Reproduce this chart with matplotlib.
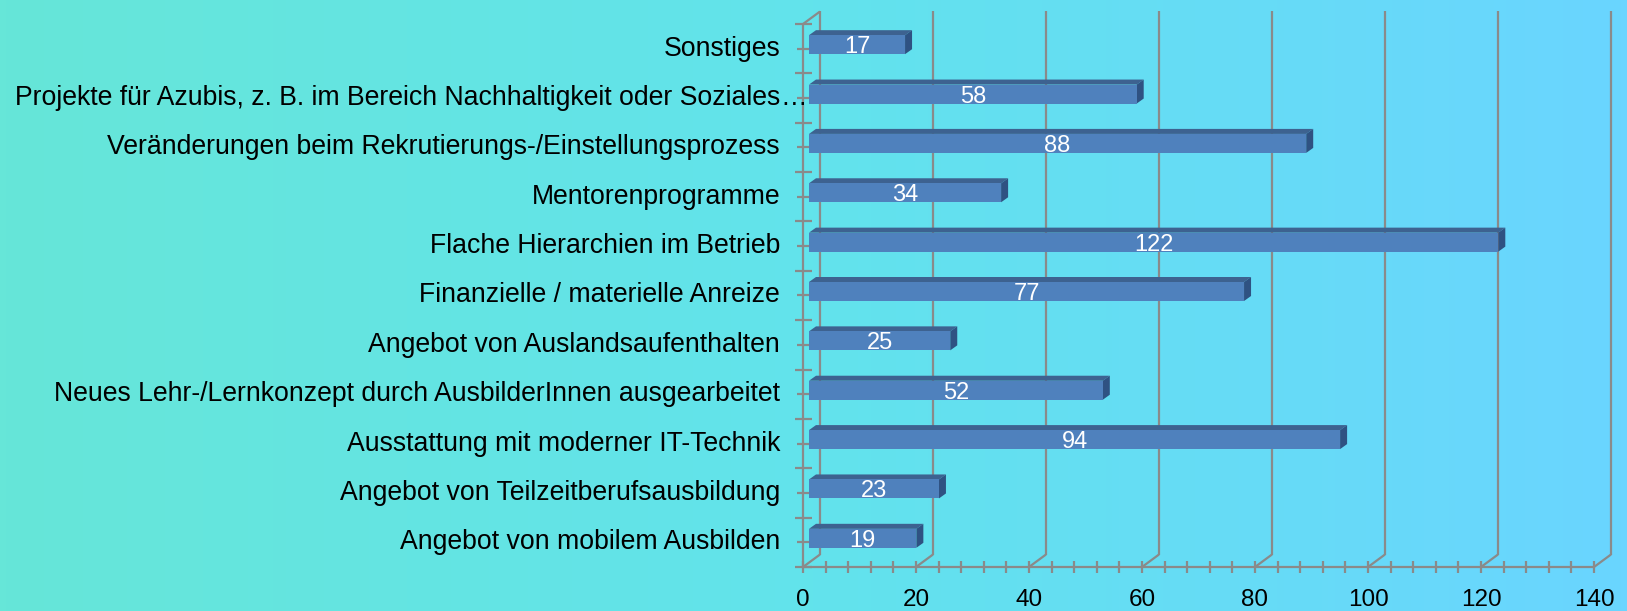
"""Horizontal 3D-style bar chart: Maßnahmen zur Attraktivität der Ausbildung."""

import matplotlib

matplotlib.use("Agg")

import matplotlib.pyplot as plt
import numpy as np
from matplotlib.colors import LinearSegmentedColormap
from matplotlib.patches import Polygon
from matplotlib.transforms import ScaledTranslation

plt.rcParams["font.family"] = ["Liberation Sans", "DejaVu Sans"]

# bottom to top
categories = [
    "Angebot von mobilem Ausbilden",
    "Angebot von Teilzeitberufsausbildung",
    "Ausstattung mit moderner IT-Technik",
    "Neues Lehr-/Lernkonzept durch AusbilderInnen ausgearbeitet",
    "Angebot von Auslandsaufenthalten",
    "Finanzielle / materielle Anreize",
    "Flache Hierarchien im Betrieb",
    "Mentorenprogramme",
    "Veränderungen beim Rekrutierungs-/Einstellungsprozess",
    "Projekte für Azubis, z. B. im Bereich Nachhaltigkeit oder Soziales…",
    "Sonstiges",
]
values = [19, 23, 94, 52, 25, 77, 122, 34, 88, 58, 17]
x_ticks = [0, 20, 40, 60, 80, 100, 120, 140]

DPI = 100
W, H = 1627, 611
FRONT = "#4f81bd"
TOP = "#3d6290"
SIDE = "#2f5282"
GRID = "#8a8a8a"

fig = plt.figure(figsize=(W / DPI, H / DPI), dpi=DPI)

# background gradient
bg = fig.add_axes([0, 0, 1, 1], zorder=-10)
cmap = LinearSegmentedColormap.from_list("bg", ["#66e6d8", "#62e3ec", "#6ad5ff"])
bg.imshow(np.linspace(0, 1, 256)[None, :], cmap=cmap, aspect="auto", extent=[0, 1, 0, 1])
bg.axis("off")

# front plane of the plot
left_px, right_px, top_px, bottom_px = 803, 1594, 24, 567
ax = fig.add_axes([left_px / W, (H - bottom_px) / H, (right_px - left_px) / W, (bottom_px - top_px) / H])
ax.set_xlim(0, 140)
ax.set_ylim(-0.5, len(categories) - 0.5)
ax.axis("off")

px_x = (right_px - left_px) / 140  # pixels per x unit
px_y = (bottom_px - top_px) / len(categories)  # pixels per category


def dx(px):
    return px / px_x


def dy(px):
    return px / px_y


y0, y1 = -0.5, len(categories) - 0.5
wall_dx, wall_dy = dx(17), dy(12.5)
line_kw = dict(color=GRID, lw=1.6, clip_on=False, solid_capstyle="butt")

# back wall gridlines and floor slants
for xv in x_ticks:
    ax.plot([xv + wall_dx, xv + wall_dx], [y0 + wall_dy, y1 + wall_dy], zorder=1, **line_kw)
    ax.plot([xv, xv + wall_dx], [y0, y0 + wall_dy], zorder=1, **line_kw)

# left wall
ax.plot([0, 0], [y0, y1], zorder=1, **line_kw)
ax.plot([0, wall_dx], [y1, y1 + wall_dy], zorder=1, **line_kw)

# y ticks at boundaries and centres
for k in range(len(categories) + 1):
    ax.plot([-dx(8), dx(9)], [k - 0.5, k - 0.5], zorder=1, **line_kw)
for k in range(len(categories)):
    ax.plot([-dx(6), dx(6)], [k, k], zorder=1, **line_kw)

# x axis line and ticks
ax.plot([0, 140], [y0, y0], zorder=4, **line_kw)
for xv in np.arange(0, 141, 4):
    ax.plot([xv, xv], [y0 - dy(6), y0 + dy(6)], zorder=4, **line_kw)

# bars
bar_sx, bar_sy = dx(6), dy(4)
bar_h = dy(19)
d_x, d_y = dx(7), dy(5)
for i, v in enumerate(values):
    xl = bar_sx
    xr = v + bar_sx
    yb = i + bar_sy - bar_h / 2
    yt = i + bar_sy + bar_h / 2
    ax.add_patch(Polygon([(xl, yt), (xr, yt), (xr + d_x, yt + d_y), (xl + d_x, yt + d_y)],
                         closed=True, fc=TOP, ec="none", zorder=3, clip_on=False))
    ax.add_patch(Polygon([(xr, yb), (xr + d_x, yb + d_y), (xr + d_x, yt + d_y), (xr, yt)],
                         closed=True, fc=SIDE, ec="none", zorder=3, clip_on=False))
    ax.add_patch(Polygon([(xl, yb), (xr, yb), (xr, yt), (xl, yt)],
                         closed=True, fc=FRONT, ec="none", zorder=3, clip_on=False))
    ax.text((xl + xr) / 2, i + bar_sy - dy(2.5), str(v), color="white", fontsize=17,
            ha="center", va="center", zorder=5, clip_on=False)

# category labels (a trailing ellipsis overhangs the label column)
lab_tr = ax.transData + ScaledTranslation(-23 / DPI, 0, fig.dpi_scale_trans)
for i, cat in enumerate(categories):
    main, tail = (cat[:-1], cat[-1]) if cat.endswith("…") else (cat, "")
    ax.text(0, i, main, transform=lab_tr, fontsize=19.2, color="black",
            ha="right", va="center", clip_on=False)
    if tail:
        ax.text(0, i, tail, transform=lab_tr, fontsize=19.2, color="black",
                ha="left", va="center", clip_on=False)

# x tick labels
tick_tr = ax.transData + ScaledTranslation(0, -33 / DPI, fig.dpi_scale_trans)
for xv in x_ticks:
    ax.text(xv, y0, str(xv), transform=tick_tr, fontsize=17.5, color="black",
            ha="center", va="center", clip_on=False)

fig.savefig("out.png", dpi=DPI)
